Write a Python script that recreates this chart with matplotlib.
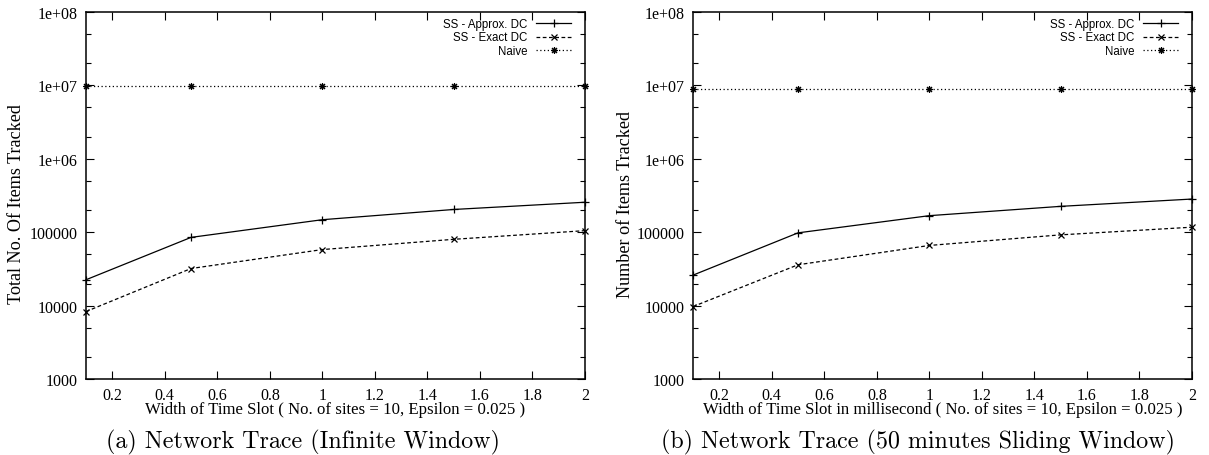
import matplotlib
matplotlib.use("Agg")
import matplotlib.pyplot as plt
from matplotlib.ticker import LogLocator, FixedLocator, NullFormatter

# width of time slot
slot_width = [0.1, 0.5, 1.0, 1.5, 2.0]

# (a) infinite window
inf_approx = [22500, 85000, 148000, 204000, 256000]
inf_exact = [8300, 32000, 58000, 80000, 105000]
inf_naive = [9.7e6, 9.7e6, 9.7e6, 9.7e6, 9.7e6]

# (b) 50 minutes sliding window
sld_approx = [26000, 98000, 168000, 225000, 283000]
sld_exact = [9700, 36000, 66000, 92000, 117000]
sld_naive = [8.9e6, 8.9e6, 8.9e6, 8.9e6, 8.9e6]

x_ticks = [0.2, 0.4, 0.6, 0.8, 1.0, 1.2, 1.4, 1.6, 1.8, 2.0]
x_tick_labels = ["0.2", "0.4", "0.6", "0.8", "1", "1.2", "1.4", "1.6", "1.8", "2"]
y_ticks = [1e3, 1e4, 1e5, 1e6, 1e7, 1e8]
y_tick_labels = ["1000", "10000", "100000", "1e+06", "1e+07", "1e+08"]

serif = "Liberation Serif"
sans = "Liberation Sans"

W, H = 1209, 456
fig = plt.figure(figsize=(W / 100, H / 100), dpi=100)
renderer = fig.canvas.get_renderer()


def fit(text, target, along="w"):
    # scale a text so its extent in pixels comes out at the target
    bb = text.get_window_extent(renderer)
    size = bb.width if along == "w" else bb.height
    text.set_fontsize(text.get_fontsize() * target / size)
    return text.get_fontsize()


def px(x, y):
    return x / W, 1 - y / H


def draw_panel(left, approx, exact, naive):
    ax = fig.add_axes([left / W, (H - 380) / H, 499 / W, 367 / H])
    ax.set_yscale("log")
    ax.plot(slot_width, approx, color="black", lw=0.9, ls="-",
            marker="+", ms=6, mew=0.9, clip_on=False, label="SS - Approx. DC")
    ax.plot(slot_width, exact, color="black", lw=0.9, ls=(0, (3, 2)),
            marker="x", ms=5, mew=0.9, clip_on=False, label="SS - Exact DC")
    ax.plot(slot_width, naive, color="black", lw=0.9, ls=(0, (1, 2)),
            marker=(8, 2, 0), ms=5, mew=0.8, clip_on=False, label="Naive")

    ax.set_xlim(0.1, 2.0)
    ax.set_ylim(1e3, 1e8)
    ax.xaxis.set_major_locator(FixedLocator(x_ticks))
    ax.set_xticklabels(x_tick_labels, fontfamily=serif, fontsize=11.5)
    ax.yaxis.set_major_locator(FixedLocator(y_ticks))
    ax.set_yticklabels(y_tick_labels, fontfamily=serif, fontsize=11.5)
    ax.yaxis.set_minor_locator(LogLocator(base=10, subs=(2.0, 5.0)))
    ax.yaxis.set_minor_formatter(NullFormatter())
    ax.tick_params(which="both", direction="in", top=True, right=True,
                   width=0.8, colors="black", pad=6)
    ax.tick_params(which="major", length=6)
    ax.tick_params(which="minor", length=3.5)
    for s in ax.spines.values():
        s.set_linewidth(1.1)

    ax.legend(loc="upper right", frameon=False, markerfirst=False,
              prop={"family": sans, "size": 8.3}, handlelength=3.0,
              handleheight=0.5, handletextpad=0.8, labelspacing=0.12,
              borderpad=0, borderaxespad=0,
              bbox_to_anchor=(1 - 14 / 499, 1 - 6 / 367))
    return ax


draw_panel(86, inf_approx, inf_exact, inf_naive)
draw_panel(693, sld_approx, sld_exact, sld_naive)

# axis titles
yl_a = fig.text(*px(17, 204), "Total No. Of Items Tracked", rotation=90,
                ha="center", va="center", fontfamily=serif, fontsize=11)
ysize = fit(yl_a, 200, "h")
fig.text(*px(625, 204), "Number of Items Tracked", rotation=90,
         ha="center", va="center", fontfamily=serif, fontsize=ysize)

xl_a = fig.text(*px(335.5, 414),
                "Width of Time Slot ( No. of sites = 10, Epsilon = 0.025 )",
                ha="center", va="baseline", fontfamily=serif, fontsize=11)
xsize = fit(xl_a, 378)
fig.text(*px(942.5, 414),
         "Width of Time Slot in millisecond ( No. of sites = 10, Epsilon = 0.025 )",
         ha="center", va="baseline", fontfamily=serif, fontsize=xsize)

# subfigure captions
cap_a = fig.text(*px(303, 448), "(a) Network Trace (Infinite Window)",
                 ha="center", va="baseline", fontfamily="cmr10", fontsize=15)
csize = fit(cap_a, 394)
fig.text(*px(918, 448), "(b) Network Trace (50 minutes Sliding Window)",
         ha="center", va="baseline", fontfamily="cmr10", fontsize=csize)

fig.savefig("out.png", dpi=100)
